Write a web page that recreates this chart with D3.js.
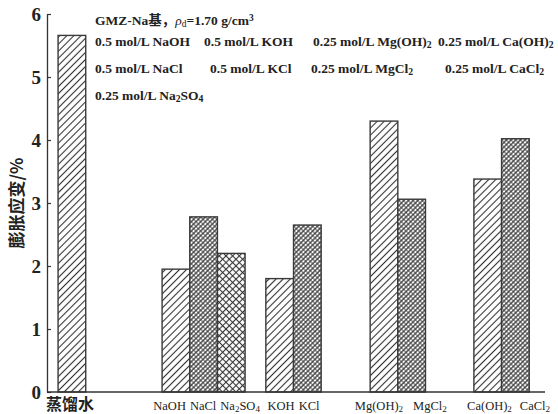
<!DOCTYPE html>
<html>
<head>
<meta charset="utf-8">
<script src="https://cdn.jsdelivr.net/npm/d3@7"></script>
<style>
  body { margin: 0; background: #fff; }
  text { fill: #222; }
</style>
</head>
<body>
<div id="chart"></div>
<script>
// Swelling strain (%)
const groupNames = ["water", "Na", "K", "Mg", "Ca"];
const groupPos = [0.9, 5.66, 8.91, 12.68, 16.43];
const categories = ["蒸馏水", "NaOH", "NaCl", "Na2SO4", "KOH", "KCl", "Mg(OH)2", "MgCl2", "Ca(OH)2", "CaCl2"];
const groupOf = ["water", "Na", "Na", "Na", "K", "K", "Mg", "Mg", "Ca", "Ca"];
const strain = [5.66, 1.95, 2.78, 2.20, 1.80, 2.65, 4.30, 3.06, 3.38, 4.02];
const kind = ["hatch", "hatch", "dense", "diamond", "hatch", "dense", "hatch", "dense", "hatch", "dense"];
const yTicks = [0, 1, 2, 3, 4, 5, 6];

const legendRow1 = ["0.5 mol/L NaOH", "0.5 mol/L KOH", "0.25 mol/L Mg(OH)2", "0.25 mol/L Ca(OH)2"];
const legendRow2 = ["0.5 mol/L NaCl", "0.5 mol/L KCl", "0.25 mol/L MgCl2", "0.25 mol/L CaCl2"];
const legendRow3 = ["0.25 mol/L Na2SO4"];

const W = 558, H = 414;
const margin = {top: 14, right: 11, bottom: 22, left: 47};

const svg = d3.select("#chart").append("svg")
    .attr("width", W)
    .attr("height", H)
    .style("font-family", "'Liberation Serif', 'Times New Roman', serif");

svg.append("rect").attr("width", W).attr("height", H).attr("fill", "#fff");

// fill patterns
const defs = svg.append("defs");
function pattern(id, size, lines) {
  const p = defs.append("pattern")
      .attr("id", id)
      .attr("patternUnits", "userSpaceOnUse")
      .attr("width", size).attr("height", size)
      .attr("patternTransform", "rotate(45)");
  p.append("rect").attr("width", size).attr("height", size).attr("fill", "#fff");
  lines.forEach(l => {
    if (l.dir === "v") {
      p.append("line").attr("x1", size / 2).attr("x2", size / 2).attr("y1", -1).attr("y2", size + 1)
        .attr("stroke", "#333").attr("stroke-width", l.w);
    } else {
      p.append("line").attr("y1", size / 2).attr("y2", size / 2).attr("x1", -1).attr("x2", size + 1)
        .attr("stroke", "#333").attr("stroke-width", l.w);
    }
  });
}
pattern("hatch", 5, [{dir: "v", w: 1.1}]);
pattern("dense", 3.3, [{dir: "v", w: 1.2}, {dir: "h", w: 0.8}]);
pattern("diamond", 4.7, [{dir: "v", w: 1.1}, {dir: "h", w: 1.1}]);

const x = d3.scaleLinear()
    .domain([0, 18])
    .range([margin.left, W - margin.right - 2]);

const y = d3.scaleLinear()
    .domain([0, 6])
    .range([H - margin.bottom, margin.top]);

// bar centre: members of a group sit side by side around the group position
function members(g) {
  return categories.filter((c, j) => groupOf[j] === g);
}
function barCenter(i) {
  const m = members(groupOf[i]);
  const k = m.indexOf(categories[i]);
  return groupPos[groupNames.indexOf(groupOf[i])] + k - (m.length - 1) / 2;
}

const bw = x(1) - x(0);

svg.append("g")
  .selectAll("rect")
  .data(categories)
  .join("rect")
    .attr("x", (d, i) => x(barCenter(i) - 0.5))
    .attr("y", (d, i) => y(strain[i]))
    .attr("width", bw)
    .attr("height", (d, i) => y(0) - y(strain[i]))
    .attr("fill", (d, i) => `url(#${kind[i]})`)
    .attr("stroke", "#3a3a3a")
    .attr("stroke-width", 1.4);

// y axis with inward ticks
const yAxis = svg.append("g")
    .attr("transform", `translate(${margin.left},0)`)
    .call(d3.axisLeft(y).tickValues(yTicks).tickFormat(d3.format("d"))
      .tickSizeInner(-4).tickSizeOuter(0).tickPadding(6));
yAxis.select(".domain").attr("stroke", "#333").attr("stroke-width", 1.3);
yAxis.selectAll(".tick line").attr("stroke", "#333").attr("stroke-width", 1.2);
yAxis.selectAll(".tick text")
    .attr("font-size", 19).attr("font-weight", "bold")
    .attr("font-family", "'Liberation Serif', serif").attr("fill", "#222");

// x axis line only
svg.append("line")
    .attr("x1", x(0)).attr("x2", x(18))
    .attr("y1", y(0)).attr("y2", y(0))
    .attr("stroke", "#333").attr("stroke-width", 1.4);

// text with chemical subscripts (baseline-shift keeps the baseline intact)
function chem(sel, str, dx) {
  const parts = str.match(/[A-Za-z()]+|\d+|[^A-Za-z()\d]+/g);
  let prevLetter = false;
  parts.forEach((p, k) => {
    const t = sel.append("tspan");
    if (k === 0 && dx) t.attr("dx", dx);
    if (/^\d+$/.test(p) && prevLetter) {
      t.attr("font-size", "0.72em").attr("baseline-shift", "-22%").text(p);
    } else {
      t.text(p);
    }
    prevLetter = /[A-Za-z()]$/.test(p);
  });
}

// category labels: distilled water under its bar, salts in one line per group
svg.append("text")
    .attr("x", x(barCenter(0)) - 2)
    .attr("y", H - 4)
    .attr("text-anchor", "middle")
    .attr("font-size", 16)
    .attr("font-weight", "bold")
    .attr("font-family", "'Noto Sans CJK SC', sans-serif")
    .text(categories[0]);

const gapOf = {Na: 4, K: 4, Mg: 10, Ca: 8};
const shiftOf = {Na: 3, K: 0, Mg: 3, Ca: 7};
groupNames.slice(1).forEach((g, gi) => {
  const t = svg.append("text")
      .attr("x", x(groupPos[gi + 1]) + shiftOf[g])
      .attr("y", H - 4)
      .attr("text-anchor", "middle")
      .attr("font-size", 12.5)
      .attr("font-family", "'Liberation Serif', serif");
  members(g).forEach((m, k) => chem(t, m, k ? gapOf[g] : 0));
});

// y title
svg.append("text")
    .attr("transform", `translate(23,${y(3)}) rotate(-90)`)
    .attr("text-anchor", "middle")
    .attr("font-size", 17)
    .attr("font-weight", "bold")
    .attr("font-family", "'Noto Sans CJK SC', sans-serif")
    .text("膨胀应变/%");

// legend block
const lg = svg.append("g").attr("font-size", 13.5).attr("font-weight", "bold");
const title = lg.append("text").attr("x", 95).attr("y", 25);
title.append("tspan").text("GMZ-Na");
title.append("tspan").attr("font-family", "'Noto Sans CJK SC', sans-serif").text("基，");
title.append("tspan").attr("font-style", "italic").attr("font-weight", "normal").text("ρ");
title.append("tspan").attr("font-size", "0.7em").attr("font-weight", "normal").attr("baseline-shift", "-25%").text("d");
title.append("tspan").text("=1.70 g/cm");
title.append("tspan").attr("font-size", "0.7em").attr("baseline-shift", "45%").text("3");

const rowX1 = [95, 204, 313, 438];
const rowX2 = [95, 210, 311, 445];
legendRow1.forEach((s, i) => chem(lg.append("text").attr("x", rowX1[i]).attr("y", 46), s));
legendRow2.forEach((s, i) => chem(lg.append("text").attr("x", rowX2[i]).attr("y", 73), s));
legendRow3.forEach((s, i) => chem(lg.append("text").attr("x", 95).attr("y", 100), s));
</script>
</body>
</html>
